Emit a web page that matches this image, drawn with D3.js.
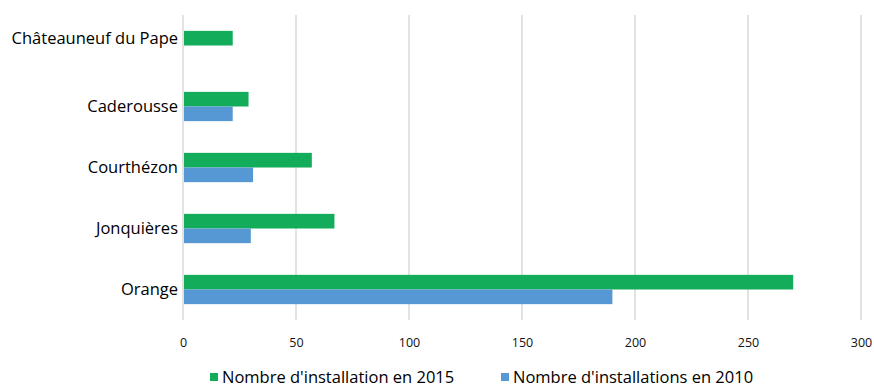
<!DOCTYPE html>
<html>
<head>
<meta charset="utf-8">
<script src="https://cdn.jsdelivr.net/npm/d3@7"></script>
<style>
  body { margin: 0; background: #fff; }
  svg { display: block; font-family: "Open Sans", "Noto Sans", sans-serif; }
</style>
</head>
<body>
<svg id="chart" width="874" height="388"></svg>
<script>
// Communes, top to bottom
const communes = ["Châteauneuf du Pape", "Caderousse", "Courthézon", "Jonquières", "Orange"];
// Installations per commune (null = no value)
const installations2015 = [22, 29, 57, 67, 270];
const installations2010 = [null, 22, 31, 30, 190];
const seriesNames = ["Nombre d'installation en 2015", "Nombre d'installations en 2010"];
const seriesColors = ["#12ac5b", "#5598d3"];
const xTicks = [0, 50, 100, 150, 200, 250, 300];

const svg = d3.select("#chart");
const margin = { left: 183, right: 13, top: 15, bottom: 68 };
const W = 874, H = 388;

const x = d3.scaleLinear().domain([0, 300]).range([margin.left, W - margin.right]);
const y = d3.scaleBand().domain(communes).range([margin.top, H - margin.bottom]).paddingInner(0.52).paddingOuter(0.26);
const sub = d3.scaleBand().domain([0, 1]).range([0, y.bandwidth()]);

// vertical gridlines
svg.append("g")
  .selectAll("line").data(xTicks).join("line")
  .attr("x1", d => x(d)).attr("x2", d => x(d))
  .attr("y1", margin.top).attr("y2", H - margin.bottom)
  .attr("stroke", "#d9d9d9").attr("stroke-width", 1.5);

// x tick labels
const xAxis = d3.axisBottom(x).tickValues(xTicks).tickSize(0).tickPadding(18);
const gx = svg.append("g").attr("transform", `translate(0,${H - margin.bottom})`).call(xAxis);
gx.select(".domain").remove();
gx.selectAll("text").attr("font-size", 12.5).attr("fill", "#111").attr("font-family", "\"Open Sans\", sans-serif");

// bars
const rows = communes.map((c, i) => ({ c, vals: [installations2015[i], installations2010[i]] }));
const groups = svg.append("g").selectAll("g").data(rows).join("g")
  .attr("transform", d => `translate(0,${y(d.c)})`);
groups.selectAll("rect")
  .data(d => d.vals.map((v, k) => ({ v, k })).filter(e => e.v != null))
  .join("rect")
  .attr("x", x(0) + 1)
  .attr("y", e => sub(e.k))
  .attr("width", e => x(e.v) - x(0) - 1)
  .attr("height", sub.bandwidth())
  .attr("fill", e => seriesColors[e.k]);

// category labels, centred on the bars drawn for each commune
const labelY = d => {
  const ks = d.vals.map((v, k) => v != null ? k : null).filter(k => k != null);
  const top = sub(ks[0]), bot = sub(ks[ks.length - 1]) + sub.bandwidth();
  return y(d.c) + (top + bot) / 2;
};
svg.append("g").selectAll("text").data(rows).join("text")
  .attr("x", margin.left - 5)
  .attr("y", labelY)
  .attr("dy", "0.35em")
  .attr("text-anchor", "end")
  .attr("font-size", 16.5)
  .attr("fill", "#000")
  .text(d => d.c);

// legend
const legendX = [210, 501];
const lg = svg.append("g").selectAll("g").data(seriesNames).join("g")
  .attr("transform", (d, i) => `translate(${legendX[i]},373)`);
lg.append("rect").attr("width", 8).attr("height", 8).attr("fill", (d, i) => seriesColors[i]);
lg.append("text").attr("x", 12).attr("y", 4).attr("dy", "0.38em")
  .attr("font-size", 16.5).attr("fill", "#000").text(d => d);
</script>
</body>
</html>
